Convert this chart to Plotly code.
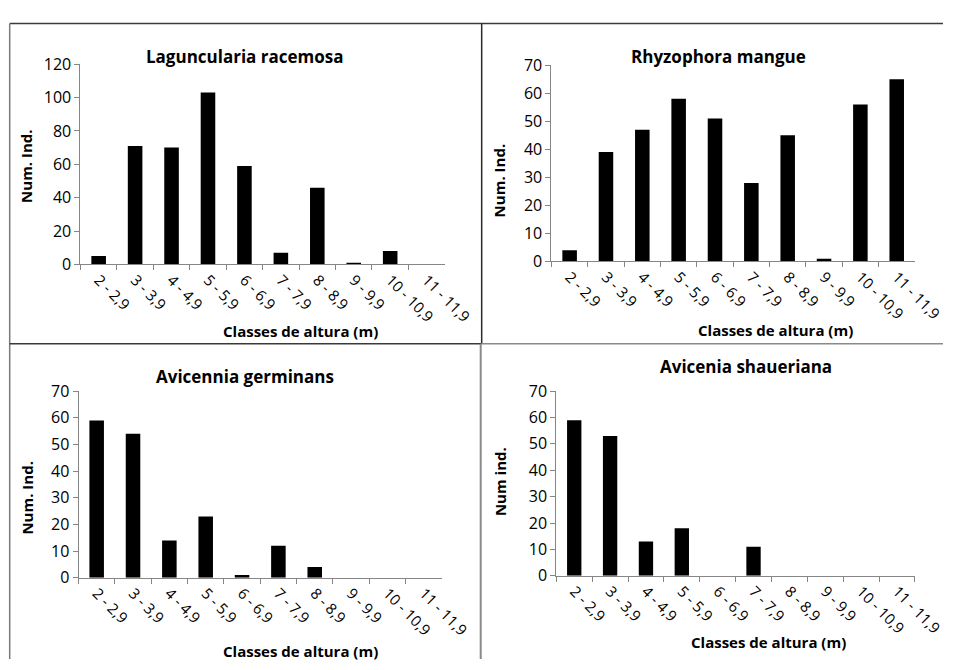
import plotly.graph_objects as go

W, H = 973, 670

categories = ["2 - 2,9", "3 - 3,9", "4 - 4,9", "5 - 5,9", "6 - 6,9",
              "7 - 7,9", "8 - 8,9", "9 - 9,9", "10 - 10,9", "11 - 11,9"]

laguncularia = [5, 71, 70, 103, 59, 7, 46, 1, 8, 0]
rhyzophora = [4, 39, 47, 58, 51, 28, 45, 1, 56, 65]
avicennia_germinans = [59, 54, 14, 23, 1, 12, 4, 0, 0, 0]
avicenia_shaueriana = [59, 53, 13, 18, 0, 11, 0, 0, 0, 0]

titles = ["Laguncularia racemosa", "Rhyzophora mangue",
          "Avicennia germinans", "Avicenia shaueriana"]
ytitles = ["Num. Ind.", "Num. Ind.", "Num. Ind.", "Num ind."]
xtitle = "Classes de altura (m)"
yranges = [120, 70, 70, 70]
ydticks = [20, 10, 10, 10]

FONT = "Open Sans"

def px(x):
    return x / W

def py(y):
    return 1 - y / H

# plot areas in pixels: (x0, x1, ytop, ybottom)
areas = [(83, 459, 55, 262), (569, 944, 56, 259),
         (81, 456, 393, 586), (574, 944, 393, 584)]
title_pos = [(253, 47), (741, 47), (253, 378), (770, 368)]
xt_pos = [(310, 331), (800, 330), (310, 662), (793, 652)]
yt_pos = [(27, 160), (515, 175), (28, 503), (516, 487)]

series = [laguncularia, rhyzophora, avicennia_germinans, avicenia_shaueriana]

fig = go.Figure()
annotations = []
for i, vals in enumerate(series):
    n = "" if i == 0 else str(i + 1)
    fig.add_trace(go.Bar(x=categories, y=vals, marker_color="black",
                         marker_line_width=0, xaxis="x" + n, yaxis="y" + n,
                         showlegend=False))
    x0, x1, yt, yb = areas[i]
    fig.layout["xaxis" + n] = dict(
        domain=[px(x0), px(x1)], anchor="y" + n, type="category",
        showline=True, linecolor="#868686", linewidth=1,
        ticks="outside", tickson="boundaries", ticklen=5, tickcolor="#868686",
        tickangle=45, tickfont=dict(family=FONT, size=15, color="black"),
        showgrid=False, fixedrange=True)
    fig.layout["yaxis" + n] = dict(
        domain=[py(yb), py(yt)], anchor="x" + n, range=[0, yranges[i]],
        dtick=ydticks[i], showline=True, linecolor="#868686", linewidth=1,
        ticks="outside", ticklen=5, tickcolor="#868686",
        tickfont=dict(family=FONT, size=16, color="black"),
        showgrid=False, zeroline=False, fixedrange=True)
    annotations.append(dict(text="<b>" + titles[i] + "</b>", x=px(title_pos[i][0]),
                            y=py(title_pos[i][1]), xref="paper", yref="paper",
                            showarrow=False, xanchor="center", yanchor="middle",
                            font=dict(family=FONT, size=17, color="black")))
    annotations.append(dict(text="<b>" + xtitle + "</b>", x=px(xt_pos[i][0]),
                            y=py(xt_pos[i][1]), xref="paper", yref="paper",
                            showarrow=False, xanchor="center", yanchor="middle",
                            font=dict(family=FONT, size=15, color="black")))
    annotations.append(dict(text="<b>" + ytitles[i] + "</b>", x=px(yt_pos[i][0]),
                            y=py(yt_pos[i][1]), xref="paper", yref="paper",
                            showarrow=False, xanchor="center", yanchor="middle",
                            textangle=-90,
                            font=dict(family=FONT, size=15, color="black")))

def line(xa, ya, xb, yb, color, width):
    return dict(type="line", xref="paper", yref="paper",
                x0=px(xa), y0=py(ya), x1=px(xb), y1=py(yb),
                line=dict(color=color, width=width))

shapes = [
    line(10, 13, 973, 13, "#3a3a3a", 1.5),
    line(10, 13, 10, 670, "#7a7a7a", 1.5),
    line(497, 13, 497, 344, "#2a2a2a", 1.5),
    line(10, 344, 497, 344, "#3a3a3a", 1.5),
    line(497, 344, 973, 344, "#8a8a8a", 1.5),
    line(496, 344, 496, 670, "#8a8a8a", 2),
]

fig.update_layout(width=W, height=H, margin=dict(l=0, r=0, t=0, b=0),
                  paper_bgcolor="white", plot_bgcolor="white",
                  bargap=0.6, annotations=annotations, shapes=shapes)

fig.write_html("out.html", config={"displayModeBar": False})
